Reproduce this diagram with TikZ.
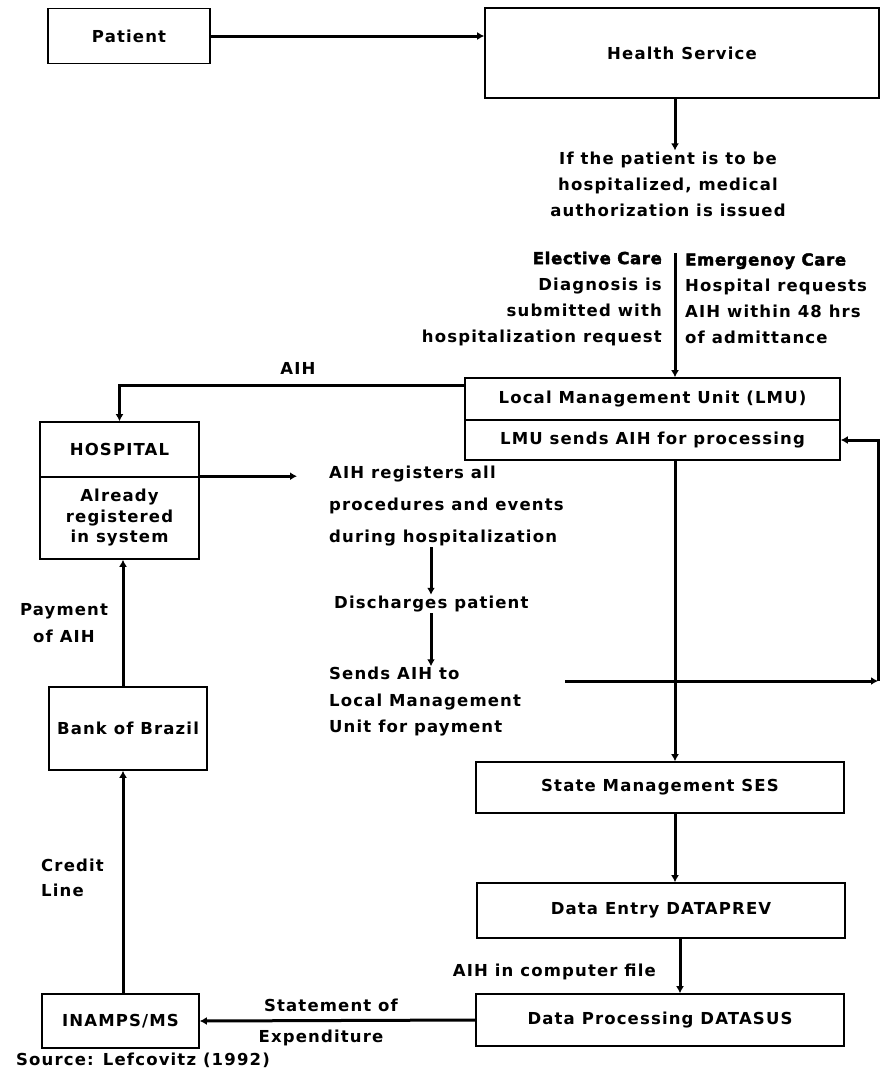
\documentclass[tikz,border=0pt]{standalone}
\usepackage{fontspec}
\setmainfont{DejaVu Sans}[LetterSpace=7]
\newfontfamily\heavyfont{DejaVu Sans Bold}[FakeBold=2.5,LetterSpace=4]
\usetikzlibrary{arrows.meta,calc}
\begin{document}
\begin{tikzpicture}[x=1pt,y=-1pt,
  box/.style={draw, line width=1.6pt, inner sep=0pt, align=center,
    font=\bfseries\fontsize{16.5}{20.5}\selectfont},
  lbl/.style={inner sep=1pt, font=\bfseries\fontsize{16.5}{26}\selectfont},
  conn/.style={line width=3pt, -{Latex[length=7pt,width=8pt]}},
]
\useasboundingbox (0,0) rectangle (880,1080);

% boxes
\node[box, minimum width=162pt, minimum height=55pt] (patient) at (129,36) {Patient};
\node[box, minimum width=394pt, minimum height=90pt] (hs) at (682,53) {Health Service};
\node[box, minimum width=375pt, minimum height=42pt] (lmu1) at (652.5,399) {Local Management Unit (LMU)};
\node[box, minimum width=375pt, minimum height=40pt] (lmu2) at (652.5,440) {LMU sends AIH for processing};
\node[box, minimum width=159pt, minimum height=55pt] (hosp1) at (119.5,449.5) {HOSPITAL};
\node[box, minimum width=159pt, minimum height=82pt] (hosp2) at (119.5,518) {Already\\registered\\in system};
\node[box, minimum width=158pt, minimum height=83pt] (bank) at (128,728.5) {Bank of Brazil};
\node[box, minimum width=157pt, minimum height=54pt] (inamps) at (120.5,1021) {INAMPS/MS};
\node[box, minimum width=368pt, minimum height=51pt] (sm) at (660,787.5) {State Management SES};
\node[box, minimum width=368pt, minimum height=55pt] (de) at (661,910.5) {Data Entry DATAPREV};
\node[box, minimum width=368pt, minimum height=52pt] (dp) at (660,1020) {Data Processing DATASUS};

% text labels
\node[lbl, align=center] (auth) at (668,184) {If the patient is to be\\hospitalized, medical\\authorization is issued};
\node[lbl, align=right, anchor=east] (elective) at (663,298.5) {{\heavyfont Elective Care}\\Diagnosis is\\submitted with\\hospitalization request};
\node[lbl, align=left, anchor=west] (emergency) at (684,298.5) {{\heavyfont Emergenoy Care}\\Hospital requests\\AIH within 48 hrs\\of admittance};
\node[lbl] (aihlbl) at (298,368) {AIH};
\node[lbl, align=left, anchor=west, font=\bfseries\fontsize{16.5}{32}\selectfont] (registers) at (328,506) {AIH registers all\\procedures and events\\during hospitalization};
\node[lbl, anchor=west] (disch) at (333,604) {Discharges patient};
\node[lbl, align=left, anchor=west, font=\bfseries\fontsize{16.5}{26.5}\selectfont] (sends) at (328,702) {Sends AIH to\\Local Management\\Unit for payment};
\node[lbl, align=center, font=\bfseries\fontsize{16.5}{27}\selectfont] (payment) at (64,623.5) {Payment\\of AIH};
\node[lbl, align=left, anchor=west, font=\bfseries\fontsize{16.5}{25}\selectfont] (credit) at (40,877.5) {Credit\\Line};
\node[lbl] (stmt) at (331,1005) {Statement of};
\node[lbl] (expend) at (321,1038) {Expenditure};
\node[lbl, anchor=east] (compfile) at (657,972) {AIH in computer file};
\node[lbl, anchor=west] (source) at (15,1060) {Source: Lefcovitz (1992)};

% coordinates
\coordinate (ex) at (675,253);
\coordinate (ex2) at (680,0);
\coordinate (ax) at (431,0);
\coordinate (bx) at (123,0);
\coordinate (r1) at (565,681);
\coordinate (r2) at (878,681);

% connectors
\draw[conn] (patient.east) -- (patient.east -| hs.west);
\draw[conn] (hs.south -| ex) -- (auth.north -| ex);
\draw[conn] (ex) -- (ex |- lmu1.north);
\draw[conn] ([yshift=14pt]lmu1.west) -| (hosp1.north);
\draw[conn, shorten >=31pt] (hosp2.north east) -- (hosp2.north east -| registers.west);
\draw[conn] (registers.south -| ax) -- (disch.north -| ax);
\draw[conn] (disch.south -| ax) -- (sends.north -| ax);
\draw[conn] (r1) -- (r2);
\draw[conn] (r2) |- (lmu2.east);
\draw[conn] (lmu2.south -| ex) -- (sm.north -| ex);
\draw[conn] (sm.south -| ex) -- (de.north -| ex);
\draw[conn] (de.south -| ex2) -- (dp.north -| ex2);
\draw[conn] (dp.west) -- (inamps.east);
\draw[conn] (inamps.north -| bx) -- (bank.south -| bx);
\draw[conn] (bank.north -| bx) -- (hosp2.south -| bx);
\end{tikzpicture}
\end{document}
